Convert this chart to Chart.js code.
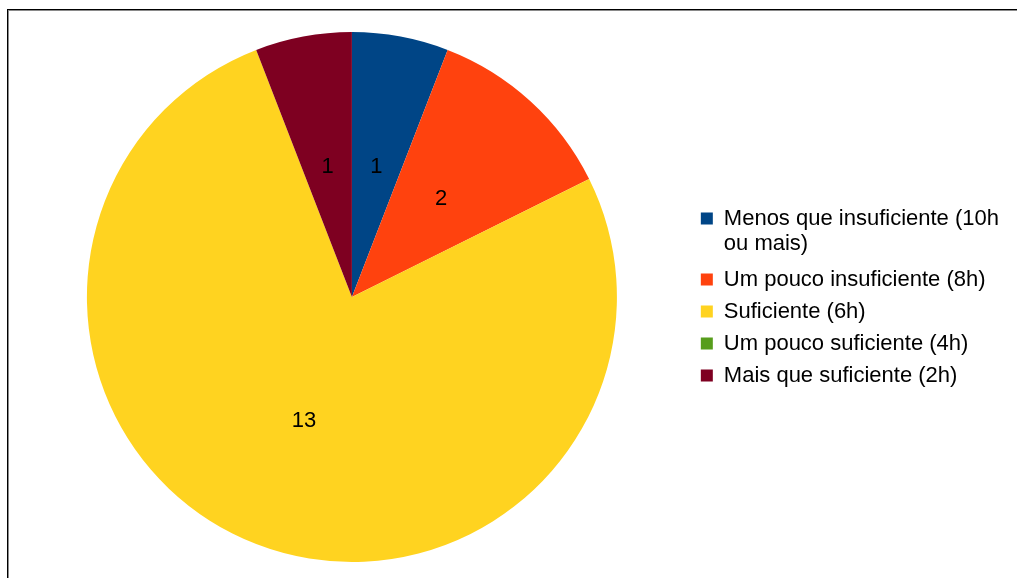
<!DOCTYPE html>
<html>
<head>
<meta charset="utf-8">
<script src="https://cdn.jsdelivr.net/npm/chart.js@4.4.1/dist/chart.umd.min.js"></script>
<style>
  body { margin: 0; background: #fff; }
  #frame {
    position: absolute; left: 7px; top: 9px; width: 1010px; height: 569px;
    border-top: 1px solid #000; border-left: 1px solid #000;
    box-shadow: inset 1px 1px 0 #8a8a8a;
  }
  #wrap { position: absolute; left: 0; top: 0; width: 1017px; height: 578px; }
</style>
</head>
<body>
<div id="frame"></div>
<div id="wrap"><canvas id="sleepChart" width="1017" height="578"></canvas></div>
<script>
const categories = [
  ["Menos que insuficiente (10h", "ou mais)"],
  "Um pouco insuficiente (8h)",
  "Suficiente (6h)",
  "Um pouco suficiente (4h)",
  "Mais que suficiente (2h)",
];
const counts = [1, 2, 13, 0, 1];
const colors = ["#004586", "#ff420e", "#ffd320", "#579d1c", "#7e0021"];

const fontFamily = "'Liberation Sans', Arial, sans-serif";

// writes each slice's count in the middle of the slice
const sliceLabels = {
  id: "sliceLabels",
  afterDatasetsDraw(chart) {
    const ctx = chart.ctx;
    const meta = chart.getDatasetMeta(0);
    ctx.save();
    ctx.font = "22px " + fontFamily;
    ctx.fillStyle = "#000";
    ctx.textAlign = "center";
    ctx.textBaseline = "middle";
    meta.data.forEach((arc, i) => {
      const v = chart.data.datasets[0].data[i];
      if (!v) return;
      const pos = arc.tooltipPosition();
      ctx.fillText(String(v), pos.x, pos.y);
    });
    ctx.restore();
  },
};

new Chart(document.getElementById("sleepChart"), {
  type: "pie",
  data: {
    labels: categories,
    datasets: [
      {
        data: counts,
        backgroundColor: colors,
        borderWidth: 0,
      },
    ],
  },
  options: {
    responsive: false,
    animation: false,
    layout: {
      padding: { top: 32, bottom: 16, left: 13, right: 8 },
    },
    plugins: {
      tooltip: { enabled: false },
      legend: {
        position: "right",
        labels: {
          boxWidth: 12,
          boxHeight: 12,
          padding: 10,
          color: "#000",
          font: { family: fontFamily, size: 22, lineHeight: 1.16 },
        },
      },
    },
  },
  plugins: [sliceLabels],
});
</script>
</body>
</html>
